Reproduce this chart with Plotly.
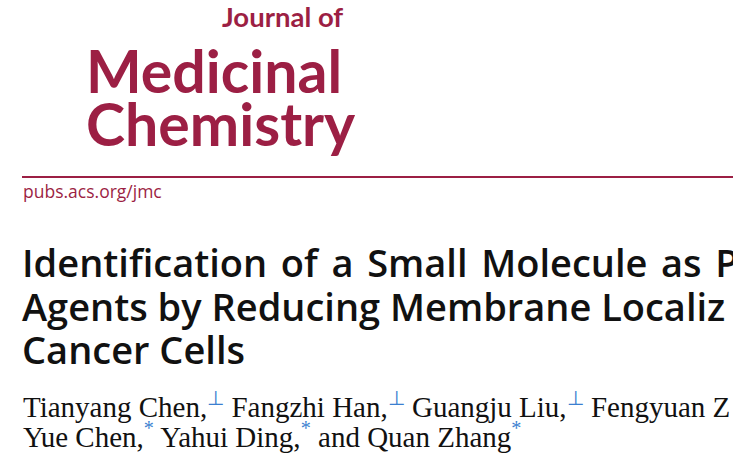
import plotly.graph_objects as go

# journal header, laid out in pixel units of a 733x468 page
JOURNAL_LINES = ["Journal of", "Medicinal", "Chemistry"]
SITE = "pubs.acs.org/jmc"
# the page crop cuts the title and author list at the right edge
TITLE_LINES = [
    "Identification of a Small Molecule as P",
    "Agents by Reducing Membrane Localiz",
    "Cancer Cells",
]
AUTHORS_1 = ["Tianyang Chen,", "Fangzhi Han,", "Guangju Liu,", "Fengyuan Z"]
MARKS_1 = ["⊥", "⊥", "⊥", ""]
AUTHORS_2 = ["Yue Chen,", "Yahui Ding,", "and Quan Zhang"]
MARKS_2 = ["*", "*", "*"]

W, H = 733, 468
RED = "#9c1f44"
BLUE = "#3b7fd0"
INK = "#111111"
HAIR = "\u200a"


def line(text, x, baseline, size, family, color, weight="normal", descent=0.27):
    return dict(
        text=text, x=x, y=baseline + descent * size,
        xref="x", yref="y", xanchor="left", yanchor="bottom",
        showarrow=False, borderpad=0,
        font=dict(family=family, size=size, color=color, weight=weight),
    )


def justify(text, extra):
    # the first title line is set justified: widen the word gaps a little
    return text.replace(" ", " " + HAIR * extra)


def author_line(names, marks):
    parts = []
    for n, m in zip(names, marks):
        parts.append(f"{n}<sup><span style='color:{BLUE}'>{m}</span></sup>" if m else n)
    return " ".join(parts)


fig = go.Figure()

annotations = [
    line(JOURNAL_LINES[0], 221, 28, 27.5, "Lato", RED, "bold", 0.21),
    line(JOURNAL_LINES[1], 85, 95, 59, "Lato", RED, "bold", 0.21),
    line(JOURNAL_LINES[2], 85, 148, 59, "Lato", RED, "bold", 0.21),
    line(SITE, 22, 199, 17.5, "Open Sans", RED, "normal", 0.29),
]
title_base = [278, 322, 365]
title_extra = [1, 0, 0]
for t, b, e in zip(TITLE_LINES, title_base, title_extra):
    annotations.append(line(justify(t, e), 21, b, 38, "Open Sans", INK, 600, 0.29))
annotations.append(line(author_line(AUTHORS_1, MARKS_1), 22, 418, 29, "Liberation Serif", INK, "normal", 0.22))
annotations.append(line(author_line(AUTHORS_2, MARKS_2), 22, 448, 29, "Liberation Serif", INK, "normal", 0.22))

fig.add_shape(type="line", x0=22, x1=W, y0=177, y1=177,
              xref="x", yref="y", line=dict(color=RED, width=2))

fig.update_layout(
    width=W, height=H,
    margin=dict(l=0, r=0, t=0, b=0),
    paper_bgcolor="white", plot_bgcolor="white",
    xaxis=dict(range=[0, W], visible=False, fixedrange=True),
    yaxis=dict(range=[H, 0], visible=False, fixedrange=True),
    annotations=annotations,
    showlegend=False,
)

fig.write_html("out.html", config={"displayModeBar": False},
               post_script="document.body.style.margin='0';")
